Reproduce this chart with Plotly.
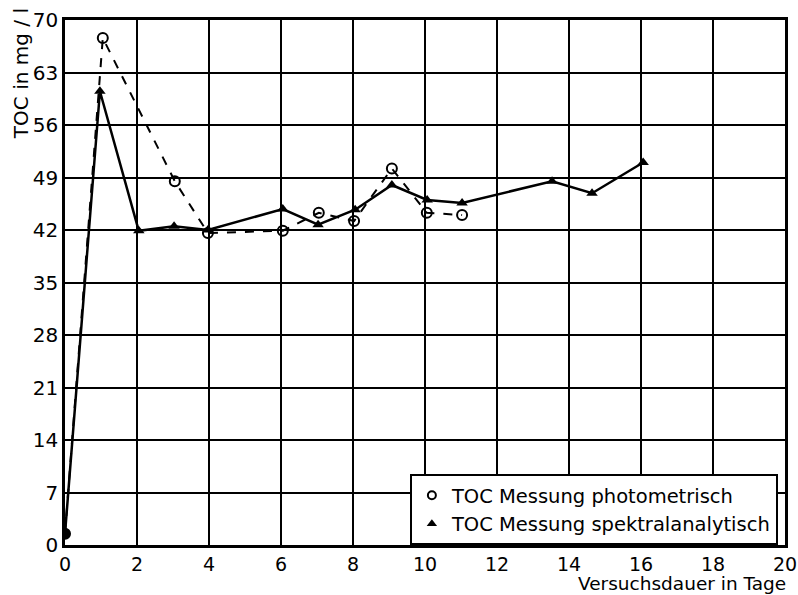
import plotly.graph_objects as go

# Data
photo_x = [0, 1.05, 3.05, 3.97, 6.05, 7.05, 8.03, 9.08, 10.05, 11.03]
photo_y = [1.5, 67.6, 48.5, 41.6, 41.9, 44.3, 43.2, 50.2, 44.3, 44.0]

spek_x = [0, 0.97, 2.05, 3.03, 3.97, 6.05, 7.03, 8.06, 9.08, 10.06, 11.03, 13.53, 14.64, 16.06]
spek_y = [1.5, 60.5, 41.9, 42.5, 42.0, 44.8, 42.7, 44.7, 48.0, 46.0, 45.6, 48.5, 46.9, 51.0]

x_ticks = list(range(0, 21, 2))
y_ticks = list(range(0, 71, 7))

labels = ["TOC Messung photometrisch", "TOC Messung spektralanalytisch"]

FONT = "DejaVu Sans, Liberation Sans, sans-serif"

fig = go.Figure()

fig.add_trace(go.Scatter(
    x=photo_x, y=photo_y, mode="lines+markers",
    line=dict(color="black", width=2, dash="dash"),
    marker=dict(symbol=["circle"] + ["circle-open"] * (len(photo_x) - 1),
                size=10, color="black", line=dict(color="black", width=2)),
    showlegend=False,
))
fig.add_trace(go.Scatter(
    x=spek_x, y=spek_y, mode="lines+markers",
    line=dict(color="black", width=2.5),
    marker=dict(symbol=["circle"] + ["triangle-up"] * (len(spek_x) - 1),
                size=10, color="black"),
    showlegend=False,
))
# legend-only entries (marker only)
fig.add_trace(go.Scatter(
    x=[None], y=[None], mode="markers", name=labels[0],
    marker=dict(symbol="circle-open", size=8, color="black", line=dict(width=2)),
))
fig.add_trace(go.Scatter(
    x=[None], y=[None], mode="markers", name=labels[1],
    marker=dict(symbol="triangle-up", size=9, color="black"),
))

fig.update_layout(
    width=798, height=595,
    margin=dict(l=65, r=13, t=20, b=50),
    paper_bgcolor="white", plot_bgcolor="white",
    font=dict(family=FONT, size=20, color="black"),
    xaxis=dict(range=[0, 20], tickvals=x_ticks, ticktext=[str(v) for v in x_ticks],
               showgrid=True, gridcolor="black", gridwidth=1.5,
               showline=True, linecolor="black", linewidth=2.5, mirror=True,
               zeroline=False, ticks="", tickfont=dict(size=19), automargin=False),
    yaxis=dict(range=[0, 70], tickvals=y_ticks, ticktext=[str(v) for v in y_ticks],
               showgrid=True, gridcolor="black", gridwidth=1.5,
               showline=True, linecolor="black", linewidth=2.5, mirror=True,
               zeroline=False, ticks="", tickfont=dict(size=20), automargin=False),
    legend=dict(x=0.479, y=0.135, xanchor="left", yanchor="top",
                bgcolor="white", bordercolor="black", borderwidth=2,
                font=dict(size=19.5), itemwidth=30, tracegroupgap=0),
    annotations=[
        dict(text="TOC in mg / l", xref="paper", yref="paper",
             x=-0.06, y=1.027, xanchor="center", yanchor="top", textangle=-90,
             showarrow=False, font=dict(size=20)),
        dict(text="Versuchsdauer in Tage", xref="paper", yref="paper",
             x=1.003, y=-0.0952, xanchor="right", yanchor="bottom",
             showarrow=False, font=dict(size=18.5), borderpad=0),
    ],
)

fig.write_html("out.html")
